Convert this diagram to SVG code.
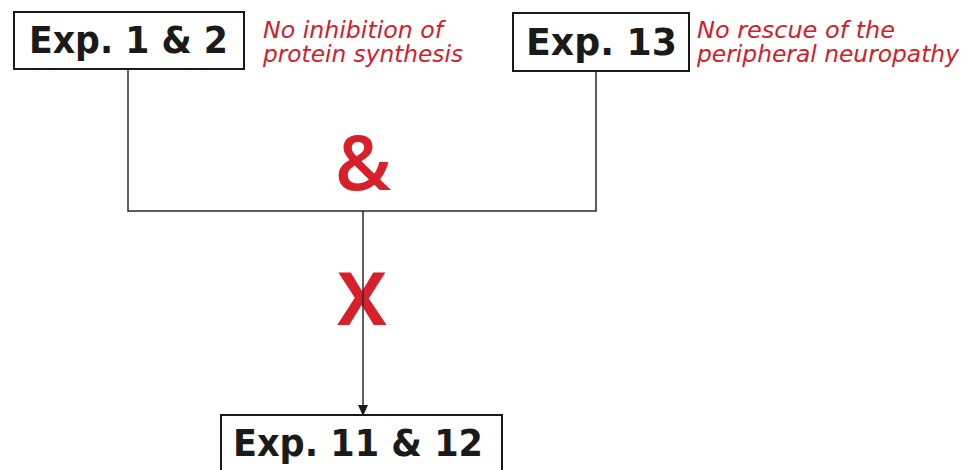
<svg xmlns="http://www.w3.org/2000/svg" width="969" height="470" viewBox="0 0 969 470">
  <defs>
    <style>
      .box { fill: #ffffff; stroke: #1a1a1a; stroke-width: 2; }
      .label { font-family: "DejaVu Sans", Verdana, sans-serif; font-weight: bold; font-size: 38px; fill: #1a1a1a; }
      .note { font-family: "DejaVu Sans", Verdana, sans-serif; font-style: italic; font-size: 23px; fill: #d0202a; }
      .sym { font-family: "Open Sans", "Liberation Sans", sans-serif; fill: #d7202a; text-anchor: middle; }
      .wire { fill: none; stroke: #2a2a2a; stroke-width: 1.5; }
    </style>
  </defs>

  <rect width="969" height="470" fill="#ffffff"/>

  <!-- red operators between the experiment groups -->
  <text class="sym" x="363" y="190" font-size="76" font-weight="600">&amp;</text>
  <text class="sym" x="362" y="325" font-size="74" font-weight="bold">X</text>

  <!-- connectors -->
  <g id="connectors">
    <polyline class="wire" points="128,69 128,211 596,211 596,71"/>
    <path class="wire" d="M363,211 V405"/>
    <path d="M358,405 L368,405 L363,416 z" fill="#1a1a1a"/>
  </g>

  <!-- Exp. 1 & 2 -->
  <g id="exp1-2">
    <rect class="box" x="14" y="12" width="230" height="57"/>
    <text class="label" x="29" y="53" textLength="199" lengthAdjust="spacingAndGlyphs">Exp. 1 &amp; 2</text>
    <text class="note" x="263" y="38" textLength="180" lengthAdjust="spacingAndGlyphs">No inhibition of</text>
    <text class="note" x="263" y="62" textLength="200" lengthAdjust="spacingAndGlyphs">protein synthesis</text>
  </g>

  <!-- Exp. 13 -->
  <g id="exp13">
    <rect class="box" x="513" y="13" width="176" height="58"/>
    <text class="label" x="526" y="55" textLength="151" lengthAdjust="spacingAndGlyphs">Exp. 13</text>
    <text class="note" x="697" y="38" textLength="198" lengthAdjust="spacingAndGlyphs">No rescue of the</text>
    <text class="note" x="697" y="62" textLength="262" lengthAdjust="spacingAndGlyphs">peripheral neuropathy</text>
  </g>

  <!-- Exp. 11 & 12 -->
  <g id="exp11-12">
    <rect class="box" x="221" y="415" width="281" height="70"/>
    <text class="label" x="233" y="456" textLength="250" lengthAdjust="spacingAndGlyphs">Exp. 11 &amp; 12</text>
  </g>
</svg>
